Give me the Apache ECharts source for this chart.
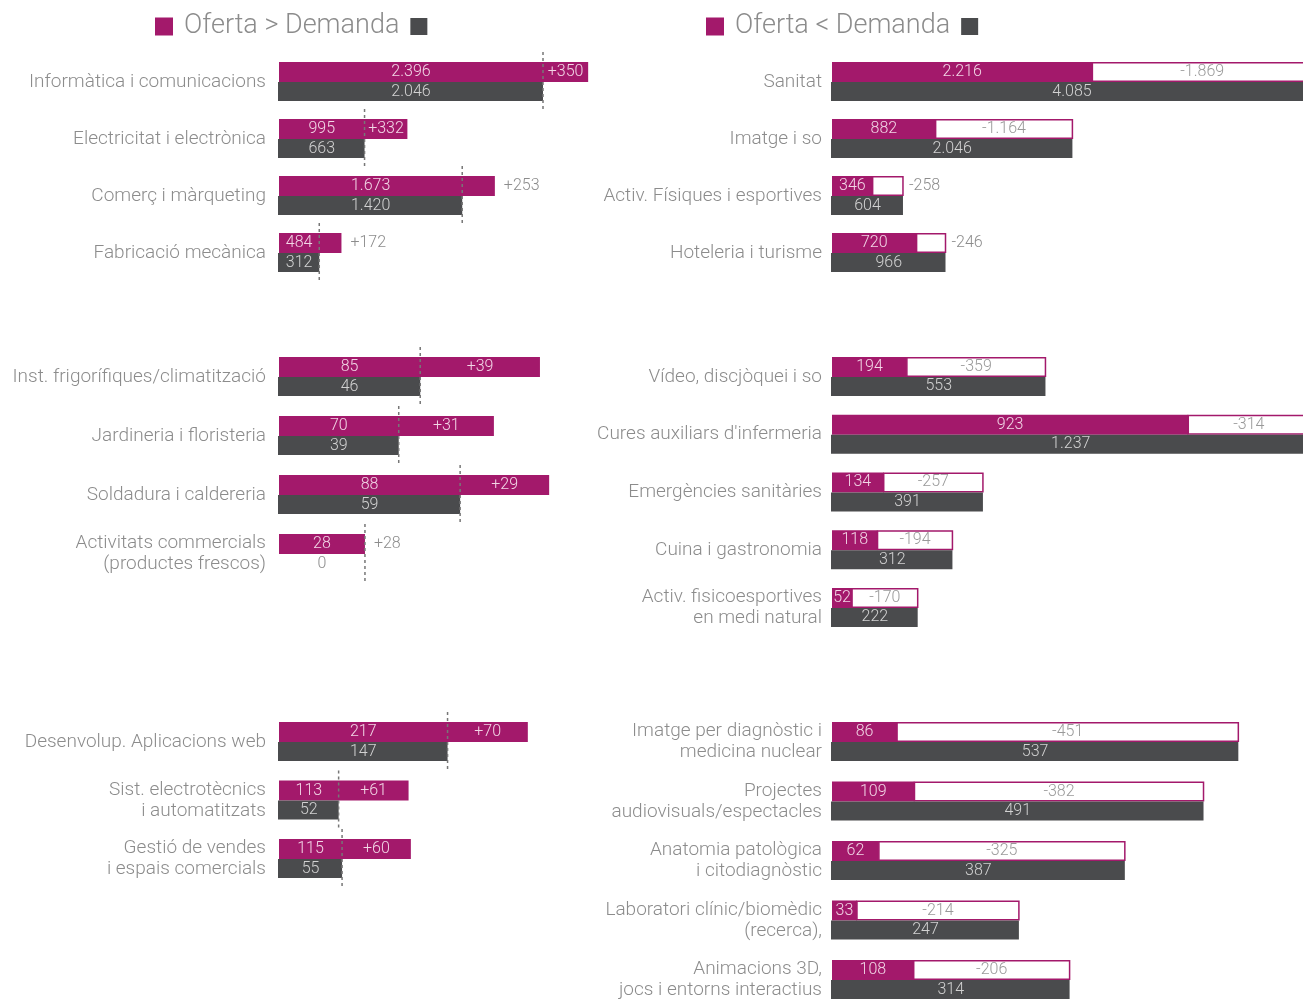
<!DOCTYPE html>
<html>
<head>
<meta charset="utf-8">
<script src="https://cdn.jsdelivr.net/npm/echarts@6/dist/echarts.min.js"></script>
<style>
  html, body { margin: 0; padding: 0; background: #fff; }
  #chart { width: 1303px; height: 1000px; }
</style>
</head>
<body>
<div id="chart"></div>
<script>
// Oferta > Demanda (left column)
const catsL1 = ['Informàtica i comunicacions', 'Electricitat i electrònica', 'Comerç i màrqueting', 'Fabricació mecànica'];
const ofertaL1 = [2396, 995, 1673, 484];
const demandaL1 = [2046, 663, 1420, 312];

const catsL2 = ['Inst. frigorífiques/climatització', 'Jardineria i floristeria', 'Soldadura i caldereria', 'Activitats commercials\n(productes frescos)'];
const ofertaL2 = [85, 70, 88, 28];
const demandaL2 = [46, 39, 59, 0];

const catsL3 = ['Desenvolup. Aplicacions web', 'Sist. electrotècnics\ni automatitzats', 'Gestió de vendes\ni espais comercials'];
const ofertaL3 = [217, 113, 115];
const demandaL3 = [147, 52, 55];

// Oferta < Demanda (right column)
const catsR1 = ['Sanitat', 'Imatge i so', 'Activ. Físiques i esportives', 'Hoteleria i turisme'];
const ofertaR1 = [2216, 882, 346, 720];
const demandaR1 = [4085, 2046, 604, 966];

const catsR2 = ['Vídeo, discjòquei i so', "Cures auxiliars d'infermeria", 'Emergències sanitàries', 'Cuina i gastronomia', 'Activ. fisicoesportives\nen medi natural'];
const ofertaR2 = [194, 923, 134, 118, 52];
const demandaR2 = [553, 1237, 391, 312, 222];

const catsR3 = ['Imatge per diagnòstic i\nmedicina nuclear', 'Projectes\naudiovisuals/espectacles', 'Anatomia patològica\ni citodiagnòstic', 'Laboratori clínic/biomèdic\n(recerca),', 'Animacions 3D,\njocs i entorns interactius'];
const ofertaR3 = [86, 109, 62, 33, 108];
const demandaR3 = [537, 491, 387, 247, 314];

const MAGENTA = '#a3196b';
const DARK = '#4a4b4d';
const GREY_TXT = '#8c8c8c';
const FONT = "Roboto, 'Liberation Sans', sans-serif";

// layout per block: column, top of first band, band height, axis max, grid width
const blocks = [
  {side: 'L', cats: catsL1, of: ofertaL1, de: demandaL1, top: 53.5, band: 57, max: 3100, width: 400},
  {side: 'L', cats: catsL2, of: ofertaL2, de: demandaL2, top: 347.5, band: 59, max: 100, width: 307},
  {side: 'L', cats: catsL3, of: ofertaL3, de: demandaL3, top: 712.75, band: 58.5, max: 300, width: 344},
  {side: 'R', cats: catsR1, of: ofertaR1, de: demandaR1, top: 53.5, band: 57, max: 4000, width: 470},
  {side: 'R', cats: catsR2, of: ofertaR2, de: demandaR2, top: 348.1, band: 57.75, max: 1000, width: 386},
  {side: 'R', cats: catsR3, of: ofertaR3, de: demandaR3, top: 712.25, band: 59.5, max: 600, width: 454}
];

function fmt(v) {
  return String(Math.abs(v)).replace(/\B(?=(\d{3})+(?!\d))/g, '.');
}

function txt(text, x, y, fill, align) {
  return {
    type: 'text',
    style: {
      text: text, x: x, y: y, fill: fill,
      font: '300 16px ' + FONT,
      align: align || 'center', verticalAlign: 'middle',
      textAlign: align || 'center', textVerticalAlign: 'middle'
    }
  };
}

function renderItem(side) {
  return function (params, api) {
    const o = api.value(0), d = api.value(2), ci = api.value(1);
    const base = api.coord([0, ci]);
    const x0 = base[0], yc = base[1];
    const xo = api.coord([o, ci])[0];
    const xd = api.coord([d, ci])[0];
    const kids = [];
    kids.push({type: 'rect', shape: {x: x0, y: yc - 20, width: xo - x0, height: 20}, style: {fill: MAGENTA}});
    if (side === 'R') {
      kids.push({type: 'rect', shape: {x: xo, y: yc - 19.25, width: xd - xo, height: 18.5},
        style: {fill: '#fff', stroke: MAGENTA, lineWidth: 1.5}});
    }
    if (d > 0) {
      kids.push({type: 'rect', shape: {x: x0 - 1, y: yc, width: xd - x0 + 1, height: 19}, style: {fill: DARK}});
    }

    const diff = o - d;
    const label = (diff > 0 ? '+' : '-') + fmt(diff);
    if (side === 'L') {
      const xm = d > 0 ? (x0 + xd) / 2 : (x0 + xo) / 2;
      kids.push(txt(fmt(o), xm, yc - 10, '#f2d6e6'));
      kids.push(txt(fmt(d), xm, yc + 9.5, d > 0 ? '#d2d2d2' : GREY_TXT));
      const xl = d > 0 ? xd : xo;
      kids.push({type: 'line', shape: {x1: xl, y1: yc - 30, x2: xl, y2: yc + 29},
        style: {stroke: '#777', lineWidth: 1.5, lineDash: [3, 3]}});
      if (d > 0 && xo - xd >= 38) {
        kids.push(txt(label, (xd + xo) / 2, yc - 10, '#f2d6e6'));
      } else {
        kids.push(txt(label, xo + 9, yc - 10, GREY_TXT, 'left'));
      }
    } else {
      kids.push(txt(fmt(o), (x0 + xo) / 2, yc - 10, '#f2d6e6'));
      kids.push(txt(fmt(d), (x0 + xd) / 2, yc + 9.5, '#d2d2d2'));
      if (xd - xo >= 38) {
        kids.push(txt(label, (xo + xd) / 2, yc - 10, '#999'));
      } else {
        kids.push(txt(label, xd + 6, yc - 10, GREY_TXT, 'left'));
      }
    }
    return {type: 'group', children: kids};
  };
}

const grid = [], xAxis = [], yAxis = [], series = [];
blocks.forEach(function (b, i) {
  grid.push({
    left: b.side === 'L' ? 279 : 832, top: b.top, width: b.width,
    height: b.band * b.cats.length, containLabel: false, outerBoundsMode: 'none'
  });
  xAxis.push({type: 'value', gridIndex: i, min: 0, max: b.max, show: false});
  yAxis.push({
    type: 'category', gridIndex: i, inverse: true, data: b.cats,
    axisLine: {show: false}, axisTick: {show: false}, splitLine: {show: false},
    axisLabel: {
      margin: b.side === 'L' ? 13 : 10, fontSize: 19, lineHeight: 21,
      color: GREY_TXT, fontFamily: FONT, fontWeight: 300
    }
  });
  series.push({
    type: 'custom', xAxisIndex: i, yAxisIndex: i,
    renderItem: renderItem(b.side),
    encode: {x: [0, 2], y: 1},
    data: b.cats.map(function (c, k) { return [b.of[k], k, b.de[k]]; })
  });
});

function heading(left, text) {
  return {
    left: left, top: 13, padding: 0,
    text: '{m| }{s| }' + text + '{s| }{d| }',
    textStyle: {
      fontSize: 27, fontWeight: 300, color: GREY_TXT, fontFamily: FONT,
      rich: {
        m: {width: 18, height: 18, backgroundColor: MAGENTA},
        s: {width: 11},
        d: {width: 17, height: 17, backgroundColor: DARK}
      }
    }
  };
}

const chart = echarts.init(document.getElementById('chart'));
chart.setOption({
  animation: false,
  title: [heading(155, 'Oferta > Demanda'), heading(706, 'Oferta < Demanda')],
  grid: grid,
  xAxis: xAxis,
  yAxis: yAxis,
  series: series
});
</script>
</body>
</html>
